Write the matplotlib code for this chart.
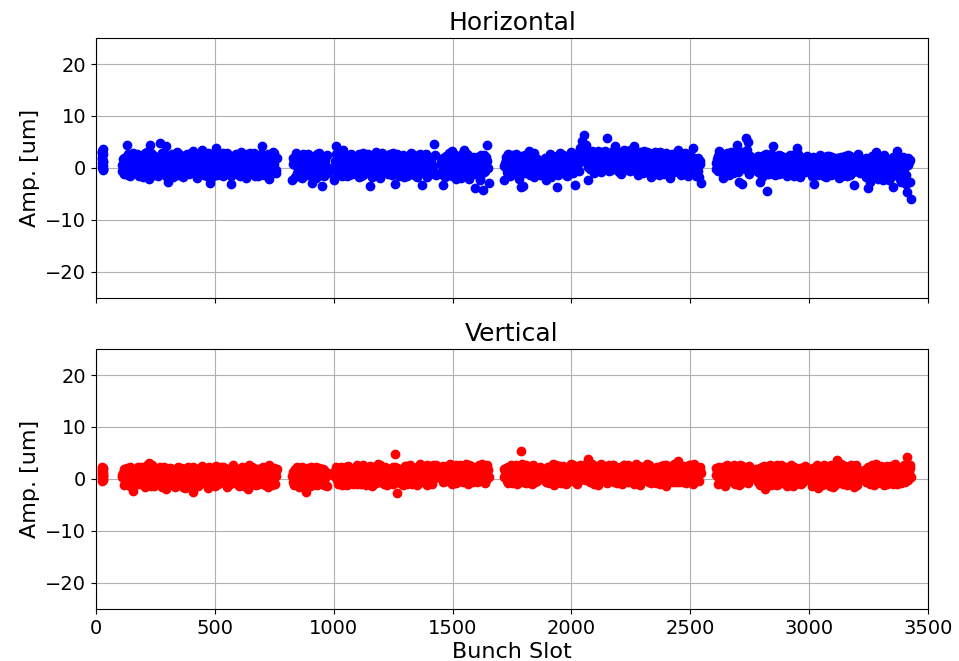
import numpy as np
import matplotlib
matplotlib.use("Agg")
import matplotlib.pyplot as plt

# Bunch trains in the filling scheme: first and last occupied slot of each train
train_first = [24, 108, 826, 1000, 1450, 1716, 1885, 2607, 2775, 3005, 3230]
train_last = [31, 762, 975, 1430, 1652, 1868, 2545, 2760, 2990, 3215, 3429]

# Horizontal amplitude [um] along each train (main samples)
amp_h = [
    [3.3, 1.8, 0.4, -0.3, 2.6],
    [0.5, -1.2, 2.1, 4.5, 1.0, -0.6, 2.8, 0.2, 1.6, -1.5,
     2.4, 0.8, -0.9, 3.0, -2.1, 4.5, 1.3, -1.4, 2.2, 0.1,
     4.9, -1.0, 1.9, 4.2, -2.6, 0.6, 2.7, -1.7, 1.1, 3.1,
     -0.4, 2.0, -1.8, 0.9, 2.6, -1.1, 1.5, 3.2, -0.2, -1.9,
     2.3, 0.4, 3.4, -1.3, 1.7, 2.9, -2.9, 0.7, 2.2, 3.8,
     -0.8, 1.2, 2.6, -1.6, 0.3, 2.9, -0.5, -3.1, 1.8, 2.5,
     -1.2, 0.9, 3.0, -0.3, 1.6, -1.9, 2.4, 0.5, -0.9, 2.8,
     1.4, -1.5, 2.1, 4.3, 0.2, -1.1, 2.7, -2.1, 1.0, 3.1,
     -0.7, 1.9],
    [-2.4, 1.5, 2.9, 0.3, -1.2, 2.2, 0.8, -0.7, 2.6, 1.1,
     -2.9, 0.4, 2.0, -1.5, 1.3, -3.5, 0.6, 2.3, -0.9],
    [-2.4, 4.2, 1.0, -0.8, 2.3, 3.5, 0.4, -1.5, 1.8, 2.6,
     -0.3, 0.9, 2.1, -1.7, 1.4, 2.8, -0.6, 0.2, 1.7, -3.5,
     2.4, -1.1, 3.1, 0.6, -1.9, 1.5, 2.2, -0.4, 0.8, 2.7,
     -1.3, 1.2, -3.1, 2.0, 0.3, -0.9, 2.5, 1.1, -1.6, 0.7,
     2.9, -0.2, 1.6, -1.8, 2.3, 0.5, -3.2, 1.3, 2.6, -0.7,
     1.9, 0.2, 4.7, -1.4],
    [1.2, -3.2, 0.5, 2.4, -1.0, 1.7, 3.2, -0.4, 2.0, -1.6,
     0.9, 2.6, 3.5, -0.8, 1.4, -2.1, 0.3, 2.2, -3.9, 1.0,
     -1.3, 2.5, -4.2, 0.6, 4.5, -2.9],
    [-2.3, 1.6, 2.6, 0.2, -1.2, 2.2, 0.8, -0.5, 1.9, -3.6,
     -3.4, 2.5, 0.4, 3.2, -1.0, 1.3, 2.8, -0.6, 0.9, -1.4],
    [0.8, -2.4, 1.9, 2.7, -1.1, 0.5, 2.2, -3.6, 1.3, -0.6,
     2.5, 0.1, -1.5, 1.7, 3.0, -0.9, -3.2, 1.2, 2.6, 3.9,
     5.1, 6.4, 4.5, -2.4, 0.7, 2.8, -1.0, 1.5, 3.3, 0.2,
     -0.8, 2.4, 1.1, 5.8, 2.9, -0.3, 1.8, 4.2, 0.9, 3.1,
     -1.2, 2.0, 3.4, 0.4, 1.6, -0.6, 2.7, 4.2, 1.2, -1.4,
     2.3, 0.6, 3.2, -0.2, 1.9, 2.8, -1.7, 1.0, 3.0, 0.3,
     -1.3, 2.2, 1.4, -0.7, 2.9, 0.5, -1.9, 1.7, 2.5, -0.4,
     3.5, 1.1, -1.2, 2.1, 0.2, -1.6, 2.6, 0.8, 3.9, -0.9,
     1.5, -1.8, -2.9],
    [0.9, 2.4, 3.2, -0.6, -1.9, 1.7, 2.8, 0.3, 1.2, -0.9,
     2.1, 4.5, -2.6, 1.5, -3.1, 0.6, 5.7, 5.0, 2.3, -0.4],
    [1.3, -0.7, -2.6, 2.2, 0.4, 1.8, -4.4, -1.2, 2.6, 4.2,
     0.1, -1.0, 1.5, 2.4, -0.3, 0.9, -1.6, 2.0, 1.1, -0.5,
     2.7, 3.9, -1.3, 0.6, 1.9, -0.8, 2.3],
    [0.7, -1.5, -3.1, 1.9, 0.2, -0.9, 2.2, 1.0, -1.8, 0.5,
     2.3, -0.4, 1.4, -1.2, 2.0, 0.3, -0.7, 1.6, 2.4, -1.6,
     0.8, 1.9, -0.2, -3.2, 1.2, 2.7, -1.0],
    [0.4, -1.7, -3.8, 1.8, -0.6, 1.1, 3.0, -2.2, 0.7, 2.1,
     -1.3, 0.2, 1.5, -2.0, -0.4, -3.6, 1.9, 3.2, -1.1, 0.6,
     2.2, -1.8, -4.6, 1.2, -6.0],
]

# Horizontal amplitude [um] for bunches half-way between the main samples
amp_h_mid = [
    [0.9, 2.9, -0.1, 1.4, 3.6],
    [1.8, 0.2, -0.4, 2.6, -1.6, 1.4, 0.0, 2.3, -1.0, 0.7,
     1.1, -1.7, 2.9, 0.4, 1.6, -0.8, 2.5, 0.3, -1.2, 1.9,
     -0.2, 2.8, 0.9, -1.5, 1.5, 2.2, -0.7, 0.5, 2.6, -1.3,
     1.2, -0.1, 2.4, 1.7, -1.0, 0.6, 2.9, -0.6, 1.9, 0.8,
     -1.4, 2.0, 0.1, 1.3, -0.9, 2.7, 0.5, -1.8, 1.6, 0.3,
     2.3, -1.1, 0.8, 2.8, -0.3, 1.0, 2.1, -1.5, 0.4, 1.7,
     2.6, -0.7, 1.2, 0.0, 2.2, -1.2, 0.9, 2.9, -0.5, 1.5,
     -1.6, 0.6, 2.4, 1.1, -0.9, 2.0, 0.3, 1.4, -1.3, 2.5,
     0.7, -0.4],
    [0.8, -1.7, 2.2, 1.4, -0.5, 2.7, -1.3, 1.0, 0.1, 2.4,
     -0.8, 1.7, -1.9, 0.6, 2.8, 0.0, -1.1, 1.6, 2.5],
    [1.3, -1.0, 2.5, 0.0, -1.6, 1.6, 2.1, -0.5, 0.8, -1.2,
     2.2, 1.3, -0.8, 2.7, 0.3, -1.4, 1.9, 2.4, -0.2, 1.0,
     -1.7, 0.5, 2.0, 1.4, -0.9, 2.8, 0.1, 1.7, -1.2, 0.6,
     2.3, -0.6, 1.1, 2.6, -1.5, 0.9, -0.1, 2.0, 1.5, -1.0,
     0.3, 2.4, -1.3, 1.2, 0.0, 2.7, -0.8, 1.8, 0.5, -1.8,
     2.2, 1.0, -0.5, 2.5],
    [-0.5, 2.0, -1.8, 1.1, 2.8, -0.9, 0.4, 1.9, -2.2, 1.3,
     -0.6, 2.3, 0.2, -1.5, 2.6, 0.8, -1.1, 1.6, -0.3, 2.1,
     0.6, -1.9, 1.4, -0.7, 2.2, 0.0],
    [1.0, -0.8, 2.0, -1.6, 1.4, 0.2, 2.7, -1.3, 0.6, 2.3,
     0.9, -0.9, 1.8, -0.3, 2.4, 0.5, -1.7, 2.1, 1.2, -0.2],
    [2.0, -0.3, 1.1, -1.8, 2.4, 0.6, -1.2, 1.5, 2.8, -0.1,
     1.0, -1.3, 2.2, 0.5, -0.7, 1.9, 2.7, -0.4, 0.9, 1.6,
     2.5, 3.4, 1.3, 0.2, 2.3, 3.2, 0.8, -0.4, 2.0, 1.4,
     3.0, 0.5, 2.6, 1.1, -0.5, 2.2, 3.3, 0.7, 1.8, -0.8,
     2.5, 1.3, 0.0, 2.9, 1.6, 3.5, 0.3, 2.1, -0.6, 1.5,
     3.0, 0.9, -0.9, 2.4, 1.2, 0.1, 2.7, 1.9, -0.5, 2.2,
     0.7, 3.1, 1.0, -1.1, 2.0, 1.5, 0.3, 2.6, -0.8, 1.3,
     0.4, 2.3, -1.3, 1.6, 2.8, 0.0, 1.1, -1.0, 2.1, 0.6,
     -1.5, 1.9, 0.8],
    [1.8, -0.5, 0.7, 2.6, 1.3, -1.2, 0.2, 2.1, 3.0, 0.9,
     -0.8, 1.6, 2.5, -0.2, 1.1, 2.9, 0.4, 3.4, -1.1, 1.4],
    [-0.4, 2.3, 0.8, -1.8, 1.6, 2.7, 0.3, -0.9, 1.2, 2.0,
     -1.4, 0.7, 2.5, -0.2, 1.4, -1.1, 2.2, 0.5, -0.6, 1.8,
     0.0, 1.3, 2.6, -1.7, 0.9, 2.0, -0.3],
    [1.6, 0.1, 2.0, -1.1, 1.3, 2.5, -0.5, -1.5, 1.7, 0.9,
     -1.0, 2.1, 0.4, -0.3, 1.5, -1.9, 2.2, 0.0, 1.1, -0.8,
     2.5, -1.3, 1.4, 0.6, -0.5, 1.8, 0.3],
    [1.5, -0.3, 1.0, -2.6, 2.3, 0.1, -1.0, 1.7, -1.6, 0.4,
     2.5, -0.7, 1.1, -2.4, 1.8, 0.3, -1.2, 2.0, 0.8, -2.7,
     1.3, -0.2, -3.0, 0.5, 1.6],
]

# Horizontal amplitude [um] for bunches a quarter of the way between samples
amp_h_qtr = [
    [2.2, 0.1, 3.0, 1.2, -0.2],
    [-0.6, 1.9, 0.9, -1.3, 2.4, 0.3, 1.2, -0.9, 2.7, 1.4,
     0.0, 2.2, 1.0, -1.1, 0.6, 2.9, -0.3, 1.7, 0.8, -1.6,
     2.1, 0.4, -0.8, 2.5, 1.3, -0.1, 1.8, 2.3, -0.9, 0.9,
     2.6, 0.2, -1.4, 1.4, 0.5, 2.2, -0.7, 1.0, 2.9, -1.2,
     0.8, 1.6, -0.5, 2.4, 0.1, -1.6, 1.9, 2.6, -0.2, 1.1,
     -1.3, 2.0, 0.7, -0.6, 2.5, 1.5, -1.0, 0.6, 2.2, -0.3,
     1.8, 0.4, -1.5, 2.3, 1.0, -0.4, 2.7, 1.3, 0.1, -1.1,
     2.0, 0.9, -0.6, 2.6, 1.7, -1.4, 0.5, 2.3, 0.0, 1.2,
     2.8, -1.0],
    [2.0, 0.5, -1.0, 1.9, 0.9, -1.9, 2.5, 0.2, -1.3, 1.5,
     2.1, -0.4, 0.8, 2.7, -1.0, 1.2, 2.2, -1.6, 0.4],
    [0.2, 2.6, -0.7, 1.5, 0.6, -1.0, 2.4, 1.1, -1.3, 2.0,
     0.5, -0.9, 1.5, 2.3, -1.5, 0.7, 1.2, -0.3, 2.6, 0.0,
     1.3, 2.2, -0.8, 0.4, 1.8, -1.2, 2.5, 0.9, -0.5, 1.6,
     0.2, 2.8, -1.0, 1.4, -0.4, 2.1, 0.8, -1.7, 1.7, 2.3,
     -0.6, 1.0, 2.5, -0.1, -1.5, 1.3, 2.0, -0.9, 0.7, 2.4,
     -0.3, 1.5, 0.4, -1.1],
    [0.7, -1.3, 1.5, -0.2, 2.3, 0.1, -1.6, 2.7, 0.5, -0.8,
     1.8, -2.0, 1.0, 2.4, -0.9, 1.6, -1.4, 0.3, 2.0, -1.1,
     1.2, -2.3, 0.8, 2.5, -0.6, 1.4],
    [0.3, 2.2, -1.4, 1.2, 2.5, -0.7, 0.5, 1.9, -2.2, 1.0,
     2.1, -0.2, 1.5, 0.1, -1.3, 2.4, 0.6, -0.8, 1.8, 0.4],
    [-1.0, 1.6, 0.3, 2.3, -0.5, 1.2, 2.0, -1.4, 0.4, 2.2,
     -0.2, 1.5, 0.7, -1.1, 2.1, 1.0, 0.2, 2.5, -0.6, 1.3,
     3.0, 4.0, 2.2, 1.0, -0.2, 1.8, 2.5, 0.6, 1.2, 2.9,
     0.4, 1.7, 3.3, 0.0, 2.4, 1.2, 0.3, 2.8, 1.5, 0.2,
     1.9, 3.0, 0.8, 2.2, -0.4, 1.3, 2.5, 0.5, 2.9, 1.0,
     0.0, 2.6, 1.4, 0.6, 3.1, -0.2, 1.8, 2.3, 0.9, -0.7,
     2.5, 0.8, -0.4, 1.8, 0.6, 2.4, 1.2, -0.9, 1.9, 2.6,
     1.0, -0.5, 2.0, 0.9, 1.5, -0.9, 2.2, 1.3, 0.1, 1.7,
     0.3, -0.6, 1.4],
    [-0.2, 1.5, 2.8, 0.5, 2.0, 0.1, 1.5, -1.3, 2.4, 1.8,
     0.2, 2.7, -0.7, 1.0, 3.1, 1.9, -0.1, 2.4, 0.8, 2.0],
    [2.0, 0.5, 1.6, -0.6, 2.5, 0.2, -1.1, 1.7, 0.6, -0.4,
     2.3, 1.4, -1.2, 0.9, 2.2, 0.3, 1.3, -0.9, 2.5, 0.8,
     -1.5, 1.0, -0.1, 2.1, 1.5, -0.6, 1.2],
    [-0.2, 2.2, 0.8, 0.1, -1.3, 1.4, 1.9, 0.2, -0.6, 2.3,
     0.6, -1.4, 1.8, 0.9, -0.1, 2.0, 1.2, -1.5, 0.5, 1.7,
     -0.4, 2.3, 0.9, -0.8, 1.6, 0.1, 2.0],
    [-1.0, 2.0, 0.6, -1.5, 0.9, 2.4, -0.2, -1.9, 1.4, 0.7,
     -2.3, 1.8, 0.0, 1.1, -1.7, 2.2, 0.5, -0.9, 1.6, -2.1,
     0.3, 1.1, -1.4, 2.0, -2.6],
]

# Vertical amplitude [um] along each train (main samples)
amp_v = [
    [2.4, 1.2, 0.0, 0.6, 1.9],
    [0.3, -1.2, 1.5, 2.1, -0.5, 0.9, -2.3, 1.8, 0.1, -1.0,
     2.3, 0.6, -1.6, 1.2, 3.1, -0.3, 2.6, -1.4, 0.8, 1.9,
     -0.8, 0.4, 2.4, -1.9, 1.0, 0.2, 2.0, -1.1, 1.4, -0.4,
     0.7, 1.7, -1.5, 0.0, 2.2, -0.9, 1.1, -2.5, 0.5, 1.6,
     -1.3, 0.3, 2.5, -0.6, 1.3, -1.8, 0.9, 2.1, -0.2, 1.5,
     -1.0, 0.6, 2.3, -0.5, 1.8, -1.6, 0.2, 1.4, 2.6, -0.8,
     0.9, -1.3, 2.0, 0.4, -0.3, 1.7, -1.9, 1.1, 2.4, 0.0,
     -1.1, 1.6, 0.5, 2.2, -0.7, 1.2, -1.5, 2.7, 0.3, 1.0,
     -0.9, 1.9],
    [0.6, -1.1, 1.8, 0.2, 2.2, -0.6, 1.3, -2.5, 0.9, -1.4,
     2.0, 0.4, -0.8, 1.5, -0.2, 1.9, -1.2, 0.7, 1.2],
    [0.5, 1.9, -0.9, 1.2, 2.4, -0.3, 0.8, -1.2, 2.0, 0.1,
     1.5, -0.7, 2.6, 0.4, -1.0, 1.8, 0.9, -0.5, 2.2, 1.1,
     -1.3, 0.6, 1.7, 2.8, -0.2, 1.0, -0.9, 2.1, 0.3, 1.4,
     -0.6, 2.3, 4.8, -2.6, 0.7, 1.6, -1.1, 2.5, 0.2, 1.2,
     -0.4, 2.0, 0.8, -1.2, 1.7, 2.9, 0.0, 1.3, -0.8, 2.2,
     0.5, -1.0, 1.6, 2.7],
    [1.0, -0.6, 2.2, 0.3, 1.6, 2.8, -0.9, 1.2, 0.5, 2.4,
     -0.3, 1.8, 0.8, 2.9, -1.0, 1.4, 0.1, 2.1, 1.0, -0.5,
     2.6, 0.7, 1.5, -0.8, 2.3, 0.4],
    [0.4, 2.1, -0.7, 1.3, 2.6, 0.0, 1.7, -1.0, 0.9, 5.3,
     2.2, -0.4, 1.5, 0.6, 2.5, -0.9, 1.1, 1.9, 0.2, 2.4],
    [1.2, -0.5, 2.3, 0.6, 1.8, -1.1, 2.7, 0.2, 1.4, -0.8,
     2.5, 0.9, 1.6, -0.3, 2.9, 0.4, 1.9, -1.0, 2.2, 1.1,
     0.0, 2.6, 1.3, 3.8, -0.6, 1.7, 0.5, 2.4, -1.2, 1.0,
     2.8, 0.3, 1.5, -0.7, 2.1, 0.8, 2.6, -0.2, 1.4, 0.6,
     2.3, -0.9, 1.8, 0.2, 2.7, 1.1, -0.4, 1.6, 2.4, 0.5,
     -1.1, 2.0, 0.9, 1.5, 2.9, -0.6, 1.2, 0.3, 2.2, 1.7,
     -0.3, 2.5, 0.7, 1.3, -1.3, 2.1, 0.4, 1.9, 2.8, -0.5,
     3.4, 1.0, 0.1, 2.3, -0.8, 1.6, 2.6, 0.6, -1.0, 1.4,
     2.0, -0.4, 1.1],
    [0.8, -1.0, 2.3, 0.2, 1.6, -1.4, 2.7, 0.5, 1.2, -0.6,
     2.0, 0.9, -1.2, 1.7, 2.5, 0.0, 1.1, -0.8, 2.2, 0.6],
    [1.0, -0.5, 2.1, 0.4, 1.5, -2.0, 0.8, 2.4, -1.1, 1.3,
     0.0, 2.6, 0.6, -0.8, 1.8, 1.1, -1.4, 2.2, 0.3, 1.6,
     -0.3, 2.0, 0.7, -1.0, 1.4, 2.5, 0.1],
    [0.5, -1.3, 2.2, 1.0, -1.8, 1.6, 0.2, 2.7, -0.7, 1.3,
     0.0, 2.3, -1.5, 0.9, 3.6, 1.8, -0.4, 0.6, 2.5, -1.1,
     1.2, 0.3, 2.0, -1.6, 0.8, 1.5, -0.2],
    [1.1, -0.6, 2.4, 0.3, 1.7, -1.2, 2.8, 0.7, 1.4, -0.3,
     2.1, 0.9, -0.9, 1.6, 2.5, 0.1, 1.2, -1.0, 2.2, 0.6,
     1.9, -0.5, 4.2, 1.3, 0.4],
]

# Vertical amplitude [um] for bunches half-way between the main samples
amp_v_mid = [
    [1.6, 0.4, 2.1, -0.2, 1.0],
    [1.2, -0.6, 0.5, 2.0, -1.4, 1.6, 0.2, -0.9, 2.3, 0.8,
     -0.3, 1.4, 0.0, 2.6, -1.1, 1.1, 0.4, 2.2, -0.7, 1.5,
     0.9, -1.5, 1.8, 0.3, -0.5, 2.1, 0.6, -1.2, 1.7, 2.4,
     -0.2, 1.0, 2.0, -1.7, 0.8, 1.3, -0.6, 2.3, 0.1, -1.0,
     1.9, 0.7, -0.4, 1.6, 2.2, -1.3, 0.4, 1.2, -0.8, 2.5,
     0.3, 1.7, -0.2, 0.9, 2.1, -1.1, 1.4, 0.5, -0.6, 2.0,
     1.1, -0.4, 1.6, 2.3, -1.4, 0.2, 1.5, -0.9, 0.8, 2.2,
     1.3, -0.5, 1.9, 0.0, 2.4, -1.2, 0.6, 1.1, -0.3, 2.0,
     0.4, 1.5],
    [1.4, -0.3, 2.4, -1.6, 0.7, 1.7, -0.9, 0.3, 2.1, 1.0,
     -0.5, 1.6, 2.3, -1.1, 0.8, -0.4, 2.0, 0.1, -1.3],
    [1.5, -0.2, 2.2, 0.7, -1.1, 1.9, 0.3, 2.5, -0.6, 1.2,
     0.0, 2.1, -1.0, 1.6, 0.8, 2.7, -0.4, 1.3, 0.1, -1.2,
     2.3, 0.9, -0.5, 1.5, 2.6, 0.4, 1.8, -0.8, 2.0, 0.6,
     1.1, -1.0, 2.4, 0.2, 1.7, -0.3, 0.9, 2.2, -0.9, 1.4,
     2.6, 0.3, -0.7, 1.9, 1.0, -0.2, 2.4, 0.6, 1.5, -1.1,
     2.0, 0.8, 2.7, 0.1],
    [2.0, 0.4, -0.4, 1.5, 2.6, 0.0, 1.9, 2.3, -0.7, 1.1,
     2.7, 0.5, -0.2, 1.7, 2.2, 0.3, 2.5, -0.6, 1.3, 2.0,
     0.1, 1.6, 2.8, 0.9, -0.1, 1.8],
    [1.5, -0.3, 2.3, 0.8, -0.8, 1.9, 2.7, 0.3, 1.2, 2.0,
     -0.5, 1.6, 2.6, -0.1, 1.0, 2.2, 0.5, -0.6, 1.7, 1.0],
    [0.4, 2.1, -0.8, 1.5, 2.8, 0.1, 1.1, 2.4, -0.4, 1.9,
     0.6, -1.0, 2.0, 1.3, 0.2, 2.7, -0.5, 1.6, 0.9, 2.4,
     1.2, -0.2, 2.9, 0.7, 1.8, 2.3, -0.9, 1.4, 2.0, 0.3,
     1.7, -0.4, 2.5, 1.0, 0.0, 1.9, 2.7, 0.6, -0.8, 2.2,
     1.3, 0.4, 2.6, -0.3, 1.5, 2.1, 0.8, -1.0, 2.8, 1.1,
     1.8, -0.2, 2.4, 0.5, 1.2, 2.6, -0.7, 1.6, 0.0, 2.3,
     1.4, -0.9, 2.0, 0.7, 2.7, 1.0, -0.2, 1.5, 0.3, 2.2,
     1.8, -0.6, 0.9, 2.5, 1.3, 0.2, 2.0, -0.5, 1.7, 2.9,
     0.4, 1.2, 2.4],
    [1.6, 0.3, -0.6, 2.0, 1.0, 2.5, -0.3, 1.4, 0.6, 2.3,
     -1.0, 1.8, 0.4, 2.6, -0.5, 1.3, 2.1, 0.9, -0.2, 1.7],
    [0.3, 1.8, -1.2, 2.3, 0.9, -0.4, 1.5, 2.7, 0.2, -0.9,
     2.0, 1.2, -0.6, 1.7, 0.5, 2.4, -0.2, 1.1, 2.6, -1.3,
     0.8, 1.5, -0.4, 2.2, 0.3, 1.0, 2.3],
    [1.4, 0.1, -0.9, 2.6, 0.7, 1.9, -1.2, 1.1, 2.4, 0.3,
     -1.4, 1.7, 0.8, 2.2, -0.5, 0.9, 2.8, -1.0, 1.4, 0.4,
     2.1, -0.8, 1.6, 0.2, 2.6, -1.2, 1.0],
    [0.2, 2.0, 1.3, -0.9, 2.6, 0.8, 1.5, -0.4, 2.2, 1.1,
     -1.1, 1.7, 2.5, 0.4, -0.6, 1.9, 2.8, 0.3, 1.4, -0.7,
     2.4, 1.0, 2.0, -0.2, 2.7],
]

# Vertical amplitude [um] for bunches a quarter of the way between samples
amp_v_qtr = [
    [0.9, 2.0, -0.3, 1.4, 0.5],
    [0.8, 1.9, -0.4, 1.0, 2.3, -1.0, 0.6, 1.4, -0.2, 2.0,
     1.2, -0.8, 0.3, 1.8, 0.5, -1.3, 2.1, 0.9, -0.3, 1.5,
     2.4, 0.1, -1.2, 1.1, 2.0, -0.6, 1.6, 0.7, -1.5, 1.2,
     0.2, 2.2, 0.8, -0.5, 1.6, 2.4, -1.1, 0.4, 1.9, -0.2,
     1.3, 2.2, -0.7, 0.6, 1.9, -0.2, 2.3, 0.5, 1.1, -1.4,
     1.8, 0.0, 1.1, 2.4, -0.8, 1.5, 0.7, -1.0, 2.2, 0.4,
     1.9, -0.6, 0.8, 1.3, 2.1, -0.5, 0.9, 2.6, -1.2, 1.4,
     0.2, 2.0, -0.9, 1.5, 0.6, 2.1, -0.3, 0.9, 1.7, -1.2,
     2.2, 0.6],
    [-0.6, 1.9, 0.5, -1.0, 1.4, 2.3, 0.1, -0.8, 1.7, 0.5,
     2.4, -1.2, 1.0, 0.0, 2.1, 1.1, -0.7, 1.8, 0.6],
    [1.0, 2.3, 0.1, -0.8, 1.7, 0.6, 2.4, -0.3, 1.3, 2.0,
     -0.9, 0.7, 1.8, -0.2, 2.3, 0.4, 1.4, -1.1, 0.9, 2.5,
     0.4, 1.2, -0.7, 2.1, 0.8, -0.5, 1.5, 2.4, -1.2, 0.9,
     1.9, 0.2, -0.5, 2.2, 1.0, -0.8, 1.7, 0.5, 2.5, -0.2,
     1.1, -0.9, 2.0, 0.6, 2.4, 0.3, -0.6, 1.9, 1.0, 2.6,
     -0.4, 1.2, 0.3, 1.8],
    [0.4, 2.5, 1.2, -0.3, 2.0, 0.8, 1.5, -0.5, 2.6, 0.2,
     1.4, 2.2, -0.6, 0.7, 1.9, 2.6, -0.2, 1.2, 0.4, 2.4,
     1.6, -0.4, 0.8, 2.1, 1.3, 2.7],
    [2.0, 0.9, 1.6, -0.4, 2.2, 0.8, -0.1, 2.5, 1.4, 0.1,
     2.8, 0.6, -0.7, 2.0, 1.2, 0.2, 2.6, 1.3, -0.3, 1.6],
    [1.8, 0.5, 2.4, -0.2, 1.3, 0.9, 2.0, -0.6, 2.5, 0.7,
     1.6, 2.2, -0.3, 0.8, 1.9, 2.4, 0.4, -0.7, 1.3, 2.6,
     0.6, 1.7, 2.2, -0.1, 1.0, 2.8, 1.4, 0.2, 2.5, -0.4,
     1.1, 2.2, 0.0, 1.8, 2.6, 0.5, 1.3, -0.5, 2.3, 1.6,
     0.1, 1.9, 2.6, 0.7, -0.6, 1.4, 2.2, 0.9, 1.7, -0.3,
     2.5, 1.0, 0.3, 2.1, -0.4, 1.8, 2.4, 0.8, 1.3, -0.8,
     2.2, 0.6, 1.5, 2.6, -0.1, 1.2, 2.3, 0.8, -0.5, 1.6,
     2.1, 0.4, 1.4, -0.6, 2.4, 0.9, 1.6, 2.7, 0.2, 1.0,
     2.2, 0.7, 1.8],
    [2.1, 0.5, 1.3, -0.8, 2.4, 0.9, 0.1, 1.9, -0.4, 1.4,
     2.6, 0.3, 1.8, -0.9, 0.8, 2.3, -0.2, 1.5, 2.5, 0.3],
    [1.9, 0.1, 1.2, -0.7, 2.5, 0.6, 1.8, -0.2, 1.0, 2.2,
     0.4, -1.1, 1.6, 2.6, 0.0, 1.2, 2.0, -0.6, 0.9, 1.7,
     2.4, -0.9, 1.3, 0.5, 2.1, -0.5, 1.5],
    [-0.4, 2.1, 0.9, 1.5, -0.7, 2.3, 1.0, 0.2, 1.8, -0.9,
     1.2, 2.6, 0.3, -1.1, 1.6, 0.7, 2.0, -0.3, 1.0, 2.2,
     0.0, 1.5, 2.7, 0.5, -0.6, 1.9, 0.8],
    [1.8, 0.6, -0.5, 2.0, 0.0, 1.4, 2.3, -0.8, 0.9, 2.5,
     0.4, 1.6, -0.2, 2.1, 1.0, -1.0, 1.3, 2.4, 0.2, 1.7,
     -0.3, 2.6, 0.8, 1.5, 2.2],
]

x_ticks = [0, 500, 1000, 1500, 2000, 2500, 3000, 3500]
y_ticks = [-20, -10, 0, 10, 20]


def slot_positions(first, last, n, frac):
    # frac=None: samples spread over the whole train including both ends;
    # otherwise samples sit at the given fraction inside n equal slot bins
    if frac is None:
        return np.linspace(first, last, n)
    edges = np.linspace(first, last, n + 1)
    return edges[:-1] + frac * (edges[1:] - edges[:-1])


def train_points(layers):
    xs, ys = [], []
    for frac, amps in layers:
        for first, last, vals in zip(train_first, train_last, amps):
            xs.append(slot_positions(first, last, len(vals), frac))
            ys.append(np.asarray(vals, dtype=float))
    return np.concatenate(xs), np.concatenate(ys)


fig = plt.figure(figsize=(9.59, 6.61), dpi=100)
ax_h = fig.add_axes([0.1001, 0.5492, 0.8675, 0.3933])
ax_v = fig.add_axes([0.1001, 0.0787, 0.8675, 0.3933], sharex=ax_h)

panels = [
    (ax_h, [(None, amp_h), (0.5, amp_h_mid), (0.25, amp_h_qtr)], "blue", "Horizontal"),
    (ax_v, [(None, amp_v), (0.5, amp_v_mid), (0.25, amp_v_qtr)], "red", "Vertical"),
]

for ax, layers, color, title in panels:
    xs, ys = train_points(layers)
    ax.scatter(xs, ys, s=36, color=color, zorder=3)
    ax.set_xlim(0, 3500)
    ax.set_ylim(-25, 25)
    ax.set_xticks(x_ticks)
    ax.set_yticks(y_ticks)
    ax.grid(True, color="#b0b0b0", linewidth=0.8)
    ax.set_axisbelow(True)
    ax.set_title(title, fontsize=18)
    ax.set_ylabel("Amp. [um]", fontsize=16)
    ax.tick_params(labelsize=14)

ax_h.tick_params(labelbottom=False)
ax_v.set_xlabel("Bunch Slot", fontsize=16, labelpad=3)

fig.savefig("out.png", dpi=100)
